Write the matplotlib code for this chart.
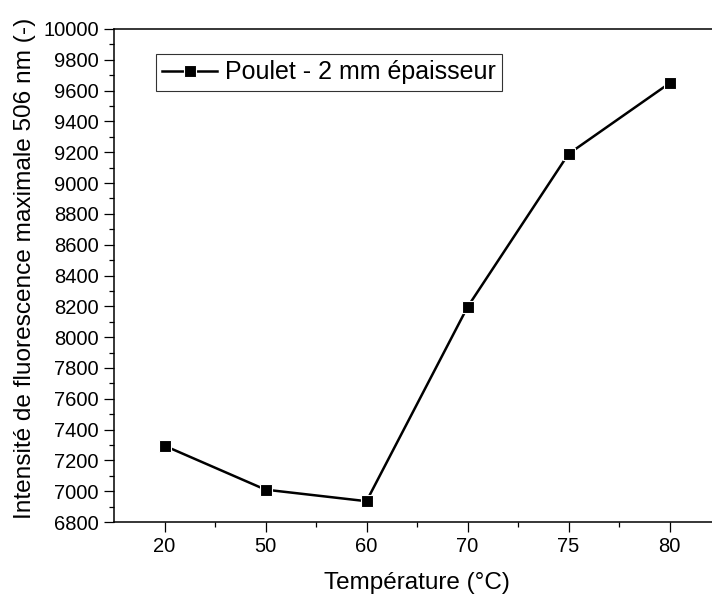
import matplotlib.pyplot as plt
from matplotlib.ticker import MultipleLocator, FixedLocator

temperatures = ["20", "50", "60", "70", "75", "80"]
intensite = [7295, 7010, 6935, 8195, 9189, 9648]

plt.rcParams["font.family"] = ["Liberation Sans", "DejaVu Sans"]

fig = plt.figure(figsize=(7.12, 5.98), dpi=100)
# axes run past the right edge of the picture, as in the original crop
ax = fig.add_axes([114 / 712, 76 / 598, 606 / 712, 493 / 598])

x = list(range(len(temperatures)))
ax.plot(x, intensite, color="black", linewidth=1.8, marker="s",
        markersize=8.5, markerfacecolor="black", markeredgecolor="white",
        markeredgewidth=0.8, label="Poulet - 2 mm épaisseur")

ax.set_xlim(-0.5, len(temperatures) - 0.5)
ax.set_ylim(6800, 10000)
ax.set_xticks(x)
ax.set_xticklabels(temperatures)
ax.xaxis.set_minor_locator(FixedLocator([i + 0.5 for i in x[:-1]]))
ax.yaxis.set_major_locator(MultipleLocator(200))
ax.yaxis.set_minor_locator(MultipleLocator(100))

ax.tick_params(which="major", direction="out", length=7, width=0.9,
               labelsize=14.5, pad=4)
ax.tick_params(which="minor", direction="out", length=3.5, width=0.9)
for side in ["left", "bottom", "top"]:
    ax.spines[side].set_linewidth(1.1)
ax.spines["right"].set_visible(False)

ax.set_xlabel("Température (°C)", fontsize=17.5, labelpad=11)
ax.set_ylabel("Intensité de fluorescence maximale 506 nm (-)", fontsize=17.6,
              labelpad=5)
ax.yaxis.set_label_coords(-0.128, 0.515)

leg = ax.legend(loc="upper left", bbox_to_anchor=(156 / 712, 1 - 54 / 598),
                bbox_transform=fig.transFigure, fontsize=18, frameon=True,
                fancybox=False, borderpad=0.25, handlelength=2.2,
                handletextpad=0.3, borderaxespad=0)
leg.get_frame().set_edgecolor("black")
leg.get_frame().set_linewidth(0.8)

fig.savefig("out.png", dpi=100)
